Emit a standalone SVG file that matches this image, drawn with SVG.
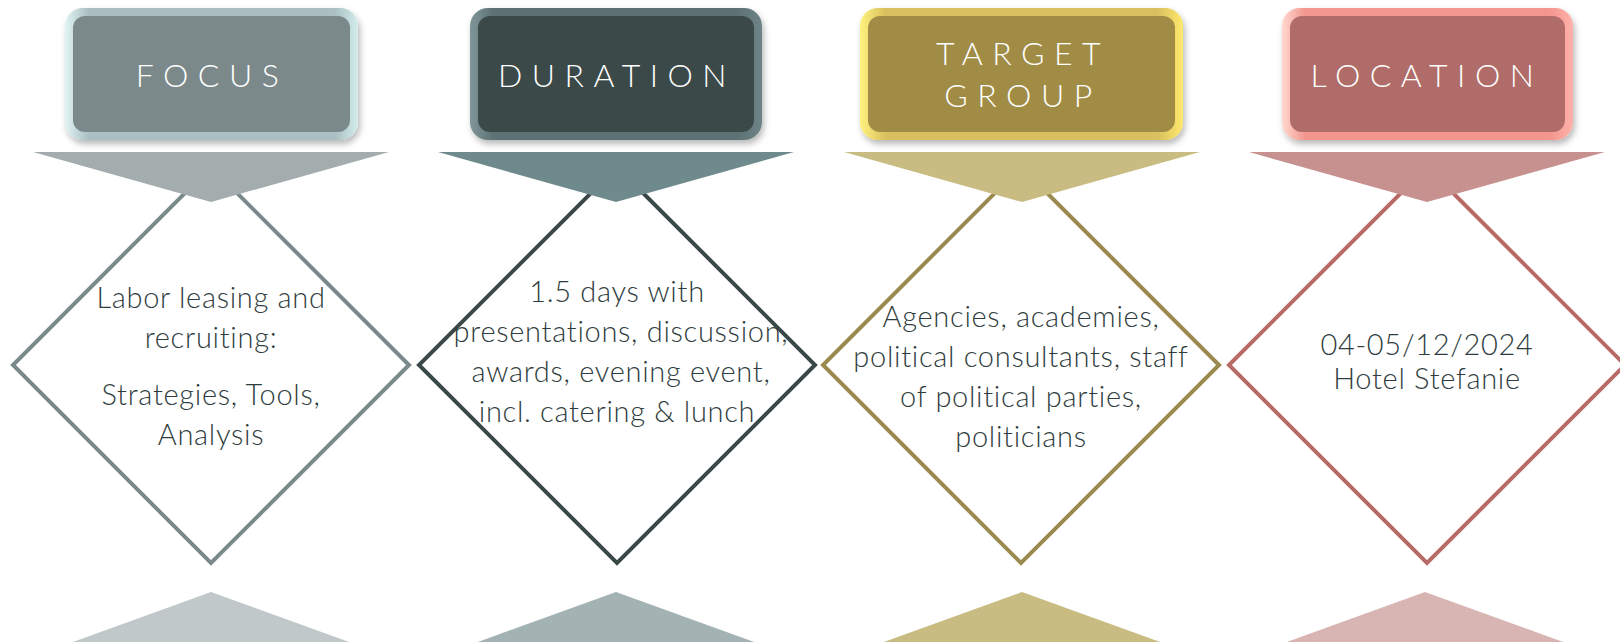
<svg xmlns="http://www.w3.org/2000/svg" width="1620" height="642" viewBox="0 0 1620 642">
<defs>
<filter id="sh" x="-10%" y="-10%" width="125%" height="130%">
<feDropShadow dx="2" dy="4" stdDeviation="3" flood-color="#000" flood-opacity="0.28"/>
</filter>
<linearGradient id="bFocus" x1="0" y1="0" x2="1" y2="0">
<stop offset="0" stop-color="#e2f4f4"/><stop offset="0.08" stop-color="#a9bfc1"/><stop offset="0.92" stop-color="#a9bfc1"/><stop offset="1" stop-color="#d4ecec"/>
</linearGradient>
<linearGradient id="bDur" x1="0" y1="0" x2="1" y2="0">
<stop offset="0" stop-color="#809698"/><stop offset="0.08" stop-color="#5d7274"/><stop offset="0.92" stop-color="#5d7274"/><stop offset="1" stop-color="#6e8486"/>
</linearGradient>
<linearGradient id="bTar" x1="0" y1="0" x2="1" y2="0">
<stop offset="0" stop-color="#fff27e"/><stop offset="0.08" stop-color="#d9bf5e"/><stop offset="0.92" stop-color="#d9bf5e"/><stop offset="1" stop-color="#ffe86e"/>
</linearGradient>
<linearGradient id="bLoc" x1="0" y1="0" x2="1" y2="0">
<stop offset="0" stop-color="#ffd8cf"/><stop offset="0.08" stop-color="#f3968e"/><stop offset="0.92" stop-color="#f3968e"/><stop offset="1" stop-color="#ffb2aa"/>
</linearGradient>
</defs>
<style>
.head{font-family:"Lato","Noto Sans",sans-serif;font-weight:300;font-size:32px;fill:#ffffff;letter-spacing:9.5px;text-anchor:middle}
.body{font-family:"Lato","Noto Sans",sans-serif;font-weight:300;font-size:29px;letter-spacing:0.7px;fill:#2f3d3e;text-anchor:middle}
.dia{fill:#ffffff;stroke-width:4}
</style>

<g id="focus">
<polygon class="dia" stroke="#7a8a8b" points="211,167 409,365 211,563 13,365"/>
<polygon fill="#a3adad" points="33,152 389,152 211,202"/>
<polygon fill="#c0c8c9" points="211,592 59,647 363,647"/>
<g filter="url(#sh)">
<rect x="65" y="8" width="293" height="132" rx="18" fill="url(#bFocus)"/>
<rect x="73" y="16" width="277" height="116" rx="12" fill="#7b898b"/>
</g>
<text class="head" x="212" y="87">FOCUS</text>
<text class="body" x="211" y="308">Labor leasing and</text>
<text class="body" x="211" y="348">recruiting:</text>
<text class="body" x="211" y="405">Strategies, Tools,</text>
<text class="body" x="211" y="445">Analysis</text>
</g>

<g id="duration">
<polygon class="dia" stroke="#3a4848" points="617,167 815,365 617,563 419,365"/>
<polygon fill="#6f8a8c" points="438,152 794,152 616,202"/>
<polygon fill="#a3b2b3" points="616,592 464,647 768,647"/>
<g filter="url(#sh)">
<rect x="470" y="8" width="292" height="132" rx="18" fill="url(#bDur)"/>
<rect x="478" y="16" width="276" height="116" rx="12" fill="#3b4a4a"/>
</g>
<text class="head" x="617" y="87">DURATION</text>
<text class="body" x="617" y="302">1.5 days with</text>
<text class="body" x="621" y="342">presentations, discussion,</text>
<text class="body" x="621" y="382">awards, evening event,</text>
<text class="body" x="617" y="422">incl. catering &amp; lunch</text>
</g>

<g id="target-group">
<polygon class="dia" stroke="#9a8a50" points="1021,167 1219,365 1021,563 823,365"/>
<polygon fill="#c8bc82" points="844,152 1200,152 1022,202"/>
<polygon fill="#c8bc82" points="1022,592 870,647 1174,647"/>
<g filter="url(#sh)">
<rect x="860" y="8" width="323" height="132" rx="18" fill="url(#bTar)"/>
<rect x="868" y="16" width="307" height="116" rx="12" fill="#a08c45"/>
</g>
<text class="head" x="1023" y="65">TARGET</text>
<text class="head" x="1023" y="107">GROUP</text>
<text class="body" x="1021" y="327">Agencies, academies,</text>
<text class="body" x="1021" y="367">political consultants, staff</text>
<text class="body" x="1021" y="407">of political parties,</text>
<text class="body" x="1021" y="447">politicians</text>
</g>

<g id="location">
<polygon class="dia" stroke="#b86a66" points="1427,167 1625,365 1427,563 1229,365"/>
<polygon fill="#c6918e" points="1249,152 1605,152 1427,202"/>
<polygon fill="#d8b4b3" points="1425,592 1273,647 1577,647"/>
<g filter="url(#sh)">
<rect x="1282" y="8" width="291" height="132" rx="18" fill="url(#bLoc)"/>
<rect x="1290" y="16" width="275" height="116" rx="12" fill="#b06c68"/>
</g>
<text class="head" x="1427" y="87">LOCATION</text>
<text class="body" x="1427" y="355">04-05/12/2024</text>
<text class="body" x="1427" y="389">Hotel Stefanie</text>
</g>

<g id="connectors"/>
</svg>
